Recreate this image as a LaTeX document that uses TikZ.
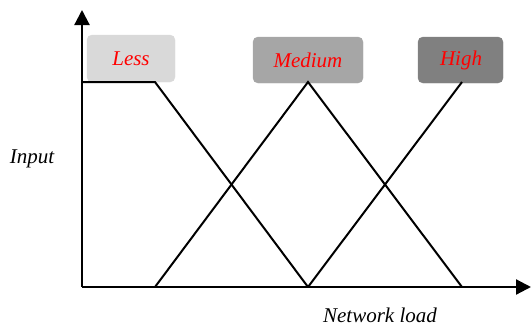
\documentclass[tikz,border=0pt]{standalone}
\usepackage{fontspec}
\setmainfont{Liberation Serif}
\usetikzlibrary{arrows.meta}
\definecolor{lessgray}{HTML}{D9D9D9}
\definecolor{medgray}{HTML}{A6A6A6}
\definecolor{highgray}{HTML}{808080}
\begin{document}
\begin{tikzpicture}[x=1pt,y=-1pt,
  axis/.style={line width=2.2pt,-{Triangle[length=15pt,width=15pt]}},
  mf/.style={line width=2pt},
  setbox/.style={rounded corners=5pt,text=red,font=\fontsize{21}{24}\selectfont\itshape,inner sep=0pt},
  lbl/.style={font=\fontsize{21}{24}\selectfont\itshape,inner sep=0pt}]
\useasboundingbox (0,0) rectangle (531,327);
% boxes
\filldraw[setbox,fill=lessgray,draw=lessgray] (87,35) rectangle (175,82);
\node[setbox] (less) at (131,59) {Less};
\filldraw[setbox,fill=medgray,draw=medgray] (253,37) rectangle (363,83);
\node[setbox] (medium) at (308,60) {Medium};
\filldraw[setbox,fill=highgray,draw=highgray] (418,37) rectangle (503,83);
\node[setbox] (high) at (461,60) {High};
% coordinates
\coordinate (o) at (82,287);
\coordinate (ytip) at (82,10);
\coordinate (xtip) at (531,287);
\coordinate (l0) at (82,82);
\coordinate (l1) at (155,82);
\coordinate (b1) at (155,287);
\coordinate (p2) at (308,82);
\coordinate (b2) at (308,287);
\coordinate (p3) at (462,82);
\coordinate (b3) at (462,287);
% membership functions
\draw[mf] (l0) -- (l1) -- (b2);
\draw[mf] (b1) -- (p2) -- (b3);
\draw[mf] (b2) -- (p3);
% axes
\draw[axis] (o) -- (ytip);
\draw[axis] (o) -- (xtip);
% labels
\node[lbl] (input) at (32,159) {Input};
\node[lbl] (load) at (380,315) {Network load};
\end{tikzpicture}
\end{document}
